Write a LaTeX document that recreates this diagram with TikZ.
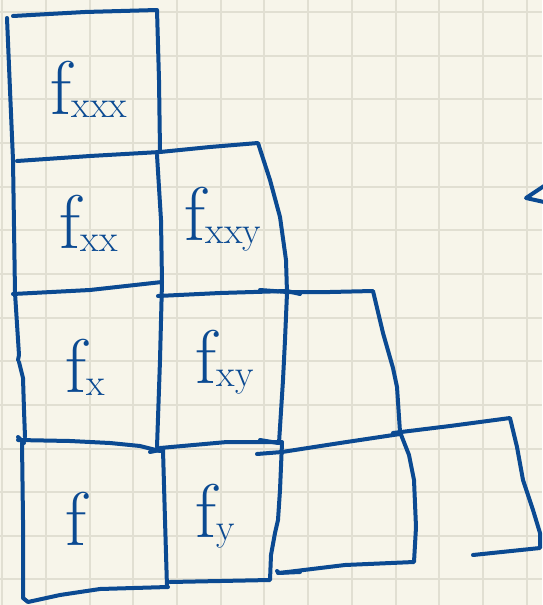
\documentclass[tikz,border=0pt]{standalone}
\definecolor{paper}{HTML}{F7F5EA}
\definecolor{gridc}{HTML}{E1DFD2}
\definecolor{ink}{HTML}{0B4A92}
\newcommand\fsubs[1]{{\fontsize{76}{76}\selectfont f}\kern1pt\raisebox{-3pt}{\fontsize{38}{38}\selectfont #1}}
\tikzset{
  pen/.style={draw=ink, line width=4pt, line cap=round, line join=round},
  lab/.style={text=ink, inner sep=0pt, outer sep=0pt, anchor=base west},
  gline/.style={draw=gridc, line width=2pt}
}
\begin{document}
\begin{tikzpicture}[x=1pt,y=-1pt]
\useasboundingbox (0,0) rectangle (542,605);
\fill[paper] (0,0) rectangle (542,605);
% grid
\foreach \k in {0,...,12} { \draw[gline] ({2.2+43.7*\k},0) -- ({2.2+43.7*\k},605); }
\foreach \k in {0,...,13} { \draw[gline] (0,{12+43.65*\k}) -- (542,{12+43.65*\k}); }
% strokes
\draw[pen] (13,16) -- (85,12) -- (157,10) -- (159,80) -- (160,151);
\draw[pen] (7,18) -- (10,90) -- (13,160) -- (15,293) -- (19,355) -- (18,360);
\draw[pen] (19,362) -- (23,378) -- (24,410) -- (25,437);
\draw[pen] (18,437) -- (24,443);
\draw[pen] (17,161) -- (90,156) -- (160,152);
\draw[pen] (160,152) -- (210,147) -- (258,143) -- (270,180) -- (280,217) -- (286,260) -- (287,293) -- (285,340) -- (283,380) -- (279,443);
\draw[pen] (157,155) -- (161,220) -- (162,282) -- (160,360) -- (157,447);
\draw[pen] (150,452) -- (160,450);
\draw[pen] (163,450) -- (165,520) -- (167,587);
\draw[pen] (13,294) -- (90,290) -- (162,282);
\draw[pen] (158,296) -- (220,293) -- (287,291) -- (300,294);
\draw[pen] (260,290) -- (287,292) -- (330,292) -- (373,291) -- (383,333) -- (393,368) -- (397,387) -- (400,432) -- (409,455) -- (414,480) -- (416,527) -- (414,562) -- (345,565) -- (279,573) -- (277,571);
\draw[pen] (18,440) -- (70,441) -- (110,443) -- (140,446) -- (160,451);
\draw[pen] (160,448) -- (227,442) -- (282,442);
\draw[pen] (260,440) -- (278,443);
\draw[pen] (282,443) -- (280,490) -- (278,520) -- (275,533) -- (271,555) -- (270,580) -- (170,582);
\draw[pen] (22,443) -- (23,520) -- (23,598) -- (28,602) -- (60,595) -- (100,589) -- (168,587);
\draw[pen] (257,454) -- (282,452) -- (340,443) -- (400,434);
\draw[pen] (393,433) -- (450,426) -- (510,418) -- (517,447) -- (523,480) -- (533,510) -- (540,533) -- (540,548) -- (473,555);
\draw[pen] (278,573) -- (300,572);
\draw[pen] (544,186) -- (526,198) -- (544,202);
% labels
\node[lab] (fxxx) at (50,114) {\fsubs{xxx}};
\node[lab] (fxx) at (59,248) {\fsubs{xx}};
\node[lab] (fxxy) at (184,240) {\fsubs{xxy}};
\node[lab] (fx) at (65,392) {\fsubs{x}};
\node[lab] (fxy) at (195,383) {\fsubs{xy}};
\node[lab] (f) at (65,545) {{\fontsize{76}{76}\selectfont f}};
\node[lab] (fy) at (195,537) {\fsubs{y}};
\end{tikzpicture}
\end{document}
